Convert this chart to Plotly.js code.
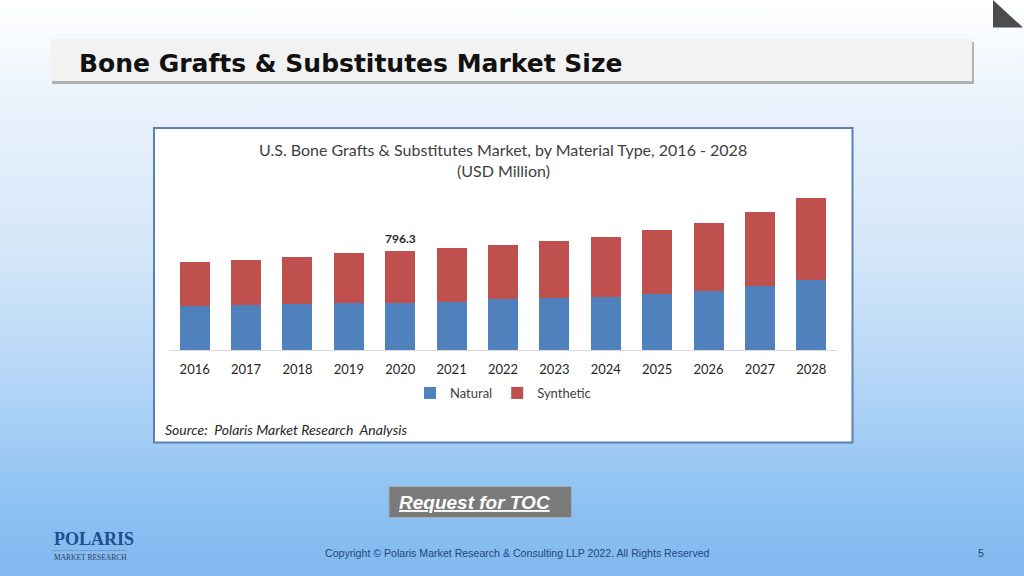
<!DOCTYPE html>
<html>
<head>
<meta charset="utf-8">
<script src="https://cdn.plot.ly/plotly-3.0.1.min.js"></script>
<style>
html,body{margin:0;padding:0;width:1024px;height:576px;overflow:hidden;}
body{background:linear-gradient(to bottom,#ffffff 0%,#eaf2fc 18%,#d3e6f9 45%,#aed2f6 70%,#8cc1f2 88%,#80b9f0 100%);}
#chart{width:1024px;height:576px;position:absolute;left:0;top:0;}
</style>
</head>
<body>
<div id="chart"></div>
<script>
const years = ["2016","2017","2018","2019","2020","2021","2022","2023","2024","2025","2026","2027","2028"];
const natural = [358, 363, 374, 382, 382, 390, 409, 420, 425, 452, 479, 514, 568];
const synthetic = [353, 364, 380, 398, 414.3, 434, 442, 457, 485, 514, 547, 601, 662];
const labelYear = "2020";
const labelValue = 796.3;
const seriesNames = ["Natural", "Synthetic"];

const W = 1024, H = 576;
const M = {l: 169, r: 187, t: 176, b: 226};
const PW = W - M.l - M.r, PH = H - M.t - M.b;
const X = px => (px - M.l) / PW;
const Y = py => (H - M.b - py) / PH;

const chartFont = "Lato, 'Open Sans', sans-serif";

const traces = [
  {type: "bar", name: seriesNames[0], x: years, y: natural, marker: {color: "#4f81bd"}, hoverinfo: "skip"},
  {type: "bar", name: seriesNames[1], x: years, y: synthetic, marker: {color: "#c0504d"}, hoverinfo: "skip"}
];

function ann(px, py, text, size, color, family, xanchor, extra) {
  return Object.assign({xref: "paper", yref: "paper", x: X(px), y: Y(py), text: text, showarrow: false,
    xanchor: xanchor || "left", yanchor: "middle", font: {size: size, color: color, family: family}}, extra || {});
}

const layout = {
  width: W, height: H,
  margin: M,
  paper_bgcolor: "rgba(0,0,0,0)",
  plot_bgcolor: "rgba(0,0,0,0)",
  barmode: "stack",
  bargap: 0.415,
  showlegend: true,
  legend: {orientation: "h", x: 0.5, xanchor: "center", y: Y(393), yanchor: "middle",
    font: {family: chartFont, size: 13, color: "#404040"}, bgcolor: "rgba(0,0,0,0)", itemwidth: 30, traceorder: "normal"},
  xaxis: {type: "category", range: [-0.5, 12.5], showline: true, linecolor: "#d9d9d9", linewidth: 1,
    showgrid: false, zeroline: false, ticks: "", ticklabelstandoff: 7,
    tickfont: {family: chartFont, size: 13, color: "#262626"}, fixedrange: true},
  yaxis: {range: [0, 1405], visible: false, showgrid: false, zeroline: false, fixedrange: true},
  shapes: [
    {type: "rect", xref: "paper", yref: "paper", x0: X(52), x1: X(974), y0: Y(42), y1: Y(84), fillcolor: "rgba(80,80,80,0.4)", line: {width: 0}, layer: "below"},
    {type: "rect", xref: "paper", yref: "paper", x0: X(51), x1: X(972), y0: Y(39), y1: Y(81), fillcolor: "#f2f2f2", line: {width: 0}, layer: "below"},
    {type: "path", xref: "paper", yref: "paper",
      path: "M" + X(993) + "," + Y(0) + " L" + X(993) + "," + Y(27.5) + " L" + X(1023) + "," + Y(27.5) + " Z",
      fillcolor: "#4d4d4d", line: {width: 0}, layer: "below"},
    {type: "rect", xref: "paper", yref: "paper", x0: X(154), x1: X(852.5), y0: Y(128), y1: Y(442.5), fillcolor: "#ffffff", line: {color: "#5b80b6", width: 2}, layer: "below"},
    {type: "rect", xref: "paper", yref: "paper", x0: X(389), x1: X(571.5), y0: Y(486.5), y1: Y(517.5), fillcolor: "#7a7a7a", line: {color: "#a3adb8", width: 1}, layer: "below"},
    {type: "line", xref: "paper", yref: "paper", x0: X(52), x1: X(126), y0: Y(550.5), y1: Y(550.5), line: {color: "#7d9bc4", width: 1}, layer: "below"}
  ],
  annotations: [
    ann(77, 64, "<b>Bone Grafts &amp; Substitutes Market Size</b>", 25, "#111111", "'DejaVu Sans', sans-serif"),
    ann(503, 149, "U.S. Bone Grafts &amp; Substitutes Market, by Material Type, 2016 - 2028", 16, "#404040", chartFont, "center"),
    ann(503, 170, "(USD Million)", 16, "#404040", chartFont, "center"),
    {xref: "x", yref: "y", x: years.indexOf(labelYear), y: labelValue, text: "<b>" + labelValue.toFixed(1) + "</b>", showarrow: false,
      xanchor: "center", yanchor: "bottom", yshift: 3, font: {family: chartFont, size: 12, color: "#262626"}},
    ann(163, 429, "<i>Source:  Polaris Market Research  Analysis</i>", 14, "#262626", chartFont),
    ann(397, 502, "<b><i><u>Request for TOC</u></i></b>", 19, "#ffffff", "'Liberation Sans', Arial, sans-serif"),
    ann(52, 539, "<b>POLARIS</b>", 18, "#1f4e8f", "'Liberation Serif', 'Times New Roman', serif"),
    ann(52, 557, "MARKET RESEARCH", 7.5, "#2e3f60", "'Liberation Serif', 'Times New Roman', serif"),
    ann(517, 553, "Copyright © Polaris Market Research &amp; Consulting LLP 2022. All Rights Reserved", 10.6, "#27457a", "'Liberation Sans', Arial, sans-serif", "center"),
    ann(981, 553, "5", 10.6, "#27457a", "'Liberation Sans', Arial, sans-serif", "center")
  ]
};

Plotly.newPlot("chart", traces, layout, {displayModeBar: false, staticPlot: true});
</script>
</body>
</html>
